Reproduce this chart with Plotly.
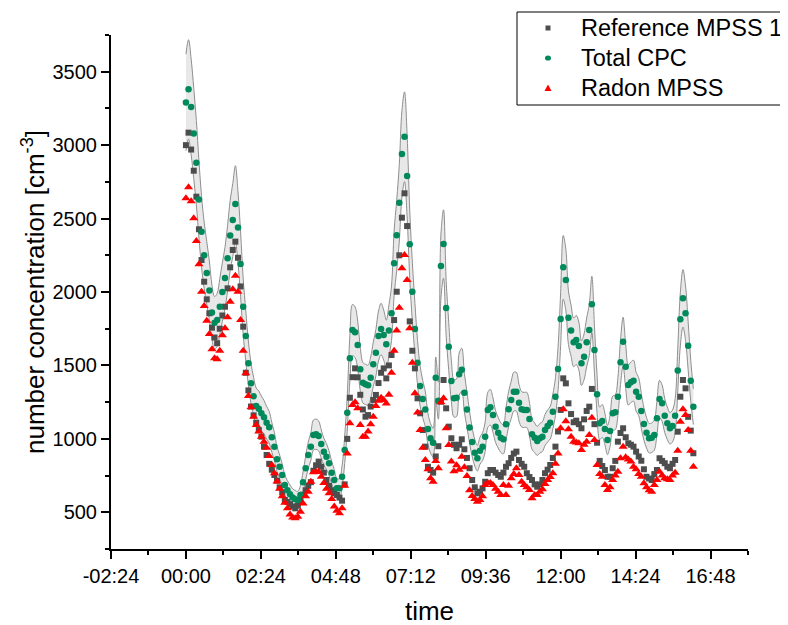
import plotly.graph_objects as go

# time in minutes after 00:00 (5-min sampling)
t_min = list(range(0, 980, 5))

# Total CPC [cm^-3]
cpc = [
    3290, 3380, 3260, 3080, 2880, 2630, 2410, 2250, 2130, 2010, 1860, 1790,
    1810, 1900, 2000, 2095, 2230, 2385, 2490, 2600, 2440, 2190, 1900, 1700,
    1515, 1378, 1290, 1224, 1205, 1174, 1147, 1110, 1079, 1011, 947, 861,
    810, 754, 686, 650, 623, 600, 589, 584, 618, 704, 800, 890,
    947, 1026, 1031, 1020, 965, 913, 879, 834, 770, 720, 663, 663,
    742, 924, 1178, 1549, 1741, 1726, 1639, 1474, 1382, 1371, 1365, 1416,
    1508, 1587, 1700, 1748, 1707, 1644, 1737, 1855, 2195, 2386, 2608, 2940,
    3057, 2790, 2325, 2002, 1748, 1519, 1360, 1271, 1200, 1067, 1004, 974,
    1416, 1260, 2177, 2327, 1891, 1628, 1394, 1276, 1280, 1440, 1470, 1314,
    1200, 1078, 979, 906, 868, 919, 947, 1015, 1197, 1215, 1162, 1083,
    1042, 1008, 997, 1100, 1201, 1265, 1321, 1321, 1246, 1201, 1197, 1197,
    1135, 1031, 1008, 986, 1004, 1015, 1060, 1088, 1110, 1185, 1287, 1476,
    1816, 2168, 2082, 1825, 1737, 1657, 1673, 1632, 1515, 1559, 1657, 1741,
    1916, 1605, 1303, 1106, 1122, 1067, 992, 1054, 1174, 1181, 1287, 1521,
    1662, 1491, 1367, 1385, 1396, 1321, 1287, 1190, 1101, 1042, 1004, 1008,
    1026, 1140, 1271, 1242, 1158, 1106, 1072, 1088, 1158, 1465, 1814, 1957,
    1855, 1634, 1396, 1219,
]

# Reference MPSS 1 [cm^-3]
ref_mpss = [
    3000, 3085, 2970, 2826, 2649, 2427, 2218, 2070, 1950, 1855, 1757, 1690,
    1651, 1750, 1840, 1900, 2025, 2168, 2286, 2343, 2233, 2038, 1764, 1450,
    1330, 1220, 1160, 1110, 1060, 1015, 947, 890, 830, 790, 754, 715,
    670, 635, 584, 570, 556, 540, 527, 545, 580, 620, 650, 680,
    705, 783, 820, 845, 810, 770, 720, 680, 650, 630, 618, 600,
    579, 690, 1000, 1280, 1420, 1480, 1419, 1300, 1200, 1151, 1162, 1220,
    1265, 1299, 1380, 1450, 1480, 1412, 1500, 1571, 1809, 2002, 2250, 2506,
    2672, 2449, 1800, 1600, 1480, 1276, 1174, 1060, 947, 810, 788, 770,
    880, 950, 1253, 1401, 1208, 1083, 1004, 960, 936, 960, 997, 929,
    870, 800, 720, 670, 629, 640, 663, 708, 766, 788, 788, 770,
    754, 742, 770, 810, 834, 870, 900, 913, 856, 830, 810, 766,
    740, 720, 690, 674, 690, 720, 766, 790, 822, 870, 947, 1050,
    1197, 1412, 1378, 1242, 1169, 1113, 1124, 1100, 1072, 1133, 1190, 1219,
    1340, 1100, 974, 850, 815, 788, 742, 742, 800, 850, 981, 1040,
    1072, 1011, 970, 960, 947, 913, 880, 851, 793, 742, 730, 720,
    760, 788, 868, 850, 834, 810, 800, 830, 856, 1049, 1287, 1401,
    1344, 1150, 1056, 902,
]

# Radon MPSS [cm^-3]
radon_mpss = [
    2638, 2713, 2618, 2502, 2347, 2189, 2002, 1905, 1805, 1714, 1610, 1549,
    1542, 1600, 1705, 1753, 1828, 1934, 2018, 2111, 2002, 1809, 1600, 1446,
    1292, 1215, 1151, 1094, 1050, 1015, 980, 940, 883, 822, 766, 710,
    660, 610, 565, 527, 485, 465, 459, 470, 504, 560, 610, 640,
    708, 772, 775, 776, 742, 700, 660, 629, 590, 540, 510, 493,
    527, 680, 900, 1106, 1230, 1250, 1208, 1094, 1015, 1015, 1050, 1100,
    1151, 1224, 1260, 1280, 1265, 1240, 1300, 1450, 1600, 1737, 1893, 2161,
    2252, 2082, 1753, 1519, 1310, 1180, 1060, 940, 856, 793, 731, 708,
    850, 800, 1250, 1276, 1072, 958, 845, 780, 820, 790, 879, 806,
    747, 650, 611, 590, 572, 584, 610, 686, 700, 700, 686, 660,
    640, 618, 686, 618, 680, 731, 760, 800, 754, 708, 686, 670,
    652, 595, 618, 618, 640, 657, 693, 720, 740, 766, 830, 900,
    1072, 1201, 1120, 1065, 1015, 981, 975, 970, 924, 960, 981, 1026,
    1144, 992, 822, 760, 742, 686, 652, 670, 720, 750, 776, 868,
    947, 874, 860, 845, 810, 793, 760, 742, 697, 670, 650, 640,
    686, 720, 776, 750, 731, 725, 720, 750, 770, 919, 1117, 1201,
    1162, 1060, 919, 810,
]

# relative uncertainty band around Total CPC
band_frac = 0.10

x_tick_vals = [-2.4, 0, 2.4, 4.8, 7.2, 9.6, 12.0, 14.4, 16.8]
x_tick_text = ["-02:24", "00:00", "02:24", "04:48", "07:12", "09:36", "12:00", "14:24", "16:48"]

legend_names = ["Reference MPSS 1", "Total CPC", "Radon MPSS"]
colors = ["#4d4d4d", "#008a5c", "#ff0000"]

hours = [m / 60 for m in t_min]
band_hi = [v * (1 + band_frac) for v in cpc]
band_lo = [v * (1 - band_frac) for v in cpc]

FONT = "Arial, 'Liberation Sans', sans-serif"
W, H = 788, 625
OFF = 8  # page body margin in the browser
# plot area in window pixels: x 111..748, y 35..549
ML = 111 - OFF
MT = 35 - OFF
MR = W - (748 - OFF)
MB = H - (549 - OFF)
PW, PH = W - ML - MR, H - MT - MB


def px_x(px):
    return (px - OFF - ML) / PW


def px_y(py):
    return (H - MB - (py - OFF)) / PH


fig = go.Figure()
fig.add_trace(go.Scatter(x=hours, y=band_lo, mode="lines",
                         line=dict(color="#8f8f8f", width=1, shape="spline"),
                         showlegend=False, hoverinfo="skip"))
fig.add_trace(go.Scatter(x=hours, y=band_hi, mode="lines", fill="tonexty",
                         fillcolor="rgb(232,232,232)",
                         line=dict(color="#8f8f8f", width=1, shape="spline"),
                         showlegend=False, hoverinfo="skip"))
fig.add_trace(go.Scatter(x=hours, y=ref_mpss, mode="markers", name=legend_names[0],
                         showlegend=False,
                         marker=dict(symbol="square", size=6, color=colors[0])))
fig.add_trace(go.Scatter(x=hours, y=cpc, mode="markers", name=legend_names[1],
                         showlegend=False,
                         marker=dict(symbol="circle", size=6.5, color=colors[1])))
fig.add_trace(go.Scatter(x=hours, y=radon_mpss, mode="markers", name=legend_names[2],
                         showlegend=False,
                         marker=dict(symbol="triangle-up", size=8, color=colors[2])))

# ---- legend box drawn by hand (to match compact spacing) ----
shapes = [dict(type="rect", xref="paper", yref="paper",
               x0=px_x(517), x1=px_x(786), y0=px_y(105), y1=px_y(12),
               line=dict(color="black", width=1), fillcolor="white", layer="above")]
annotations = []
row_py = [28, 58, 88]
mx = 548
for i, (name, col) in enumerate(zip(legend_names, colors)):
    cy = row_py[i]
    if i == 0:
        shapes.append(dict(type="rect", xref="paper", yref="paper",
                           x0=px_x(mx - 2.5), x1=px_x(mx + 2.5),
                           y0=px_y(cy + 2.5), y1=px_y(cy - 2.5),
                           line=dict(width=0), fillcolor=col, layer="above"))
    elif i == 1:
        shapes.append(dict(type="circle", xref="paper", yref="paper",
                           x0=px_x(mx - 3), x1=px_x(mx + 3),
                           y0=px_y(cy + 2.6), y1=px_y(cy - 2.6),
                           line=dict(width=0), fillcolor=col, layer="above"))
    else:
        path = "M {} {} L {} {} L {} {} Z".format(
            px_x(mx - 3.5), px_y(cy + 3), px_x(mx + 3.5), px_y(cy + 3),
            px_x(mx), px_y(cy - 3.5))
        shapes.append(dict(type="path", xref="paper", yref="paper", path=path,
                           line=dict(width=0), fillcolor=col, layer="above"))
    annotations.append(dict(text=name, xref="paper", yref="paper",
                            x=px_x(579), y=px_y(cy), xanchor="left", yanchor="middle",
                            showarrow=False,
                            font=dict(family=FONT, size=23.5, color="black")))

axis_common = dict(showline=True, linecolor="black", linewidth=2, mirror=False,
                   ticks="outside", ticklen=8, tickwidth=2, tickcolor="black",
                   showgrid=False, zeroline=False, automargin=False,
                   tickfont=dict(family=FONT, size=20, color="black"))

fig.update_layout(
    width=W, height=H,
    margin=dict(l=ML, r=MR, t=MT, b=MB),
    paper_bgcolor="white", plot_bgcolor="white",
    font=dict(family=FONT, color="black"),
    showlegend=False,
    xaxis=dict(range=[-2.4, 18.0], tickmode="array", tickvals=x_tick_vals,
               ticktext=x_tick_text,
               minor=dict(ticks="outside", ticklen=4, tickwidth=2, tickcolor="black",
                          tick0=-1.2, dtick=2.4),
               title=dict(text="time", font=dict(family=FONT, size=26), standoff=16),
               **axis_common),
    yaxis=dict(range=[250, 3750], tick0=0, dtick=500,
               minor=dict(ticks="outside", ticklen=4, tickwidth=2, tickcolor="black",
                          tick0=250, dtick=500),
               title=dict(text="number concentration [cm<sup>-3</sup>]",
                          font=dict(family=FONT, size=26), standoff=0),
               **axis_common),
    shapes=shapes,
    annotations=annotations,
)

fig.write_html("out.html")
